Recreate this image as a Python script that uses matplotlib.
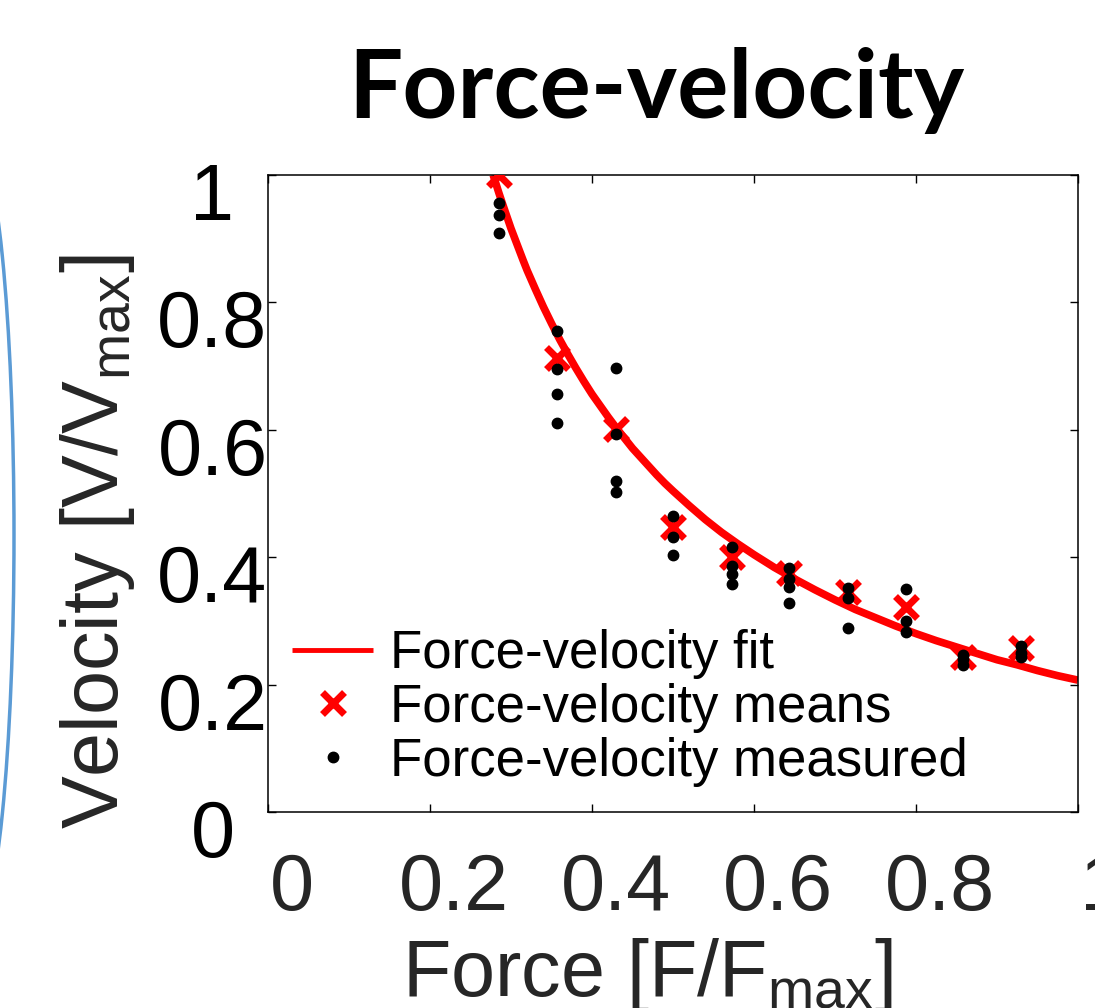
import matplotlib
matplotlib.use("Agg")
import matplotlib.pyplot as plt
from matplotlib.patches import Ellipse
from matplotlib.transforms import ScaledTranslation

plt.rcParams['font.family'] = ['Liberation Sans', 'DejaVu Sans']
plt.rcParams['mathtext.default'] = 'regular'

# Means of each force level (red crosses)
mean_force = [0.285, 0.357, 0.430, 0.500, 0.573, 0.643, 0.716, 0.788, 0.858, 0.930]
mean_velocity = [1.000, 0.713, 0.601, 0.448, 0.400, 0.375, 0.345, 0.322, 0.243, 0.257]

# Individual measurements at each force level (black dots)
measured_velocity = [
    [0.956, 0.937, 0.909],
    [0.755, 0.695, 0.656, 0.611],
    [0.697, 0.593, 0.520, 0.502],
    [0.465, 0.432, 0.403],
    [0.416, 0.386, 0.374, 0.358],
    [0.383, 0.365, 0.353, 0.328],
    [0.352, 0.336, 0.289],
    [0.350, 0.300, 0.283],
    [0.246, 0.240, 0.231],
    [0.261, 0.250, 0.243],
]

# Fitted curve
fit_force = [0.278, 0.285, 0.29, 0.30, 0.315, 0.32, 0.33, 0.34, 0.345, 0.35, 0.36, 0.37,
             0.38, 0.39, 0.40, 0.41, 0.42, 0.43, 0.44, 0.45, 0.46, 0.47, 0.48, 0.49,
             0.50, 0.52, 0.54, 0.56, 0.58, 0.60, 0.625, 0.65, 0.675, 0.70, 0.725,
             0.75, 0.775, 0.80, 0.825, 0.85, 0.875, 0.90, 0.925, 0.95, 0.975, 1.00]
fit_velocity = [1.000, 0.972, 0.953, 0.916, 0.866, 0.850, 0.821, 0.793, 0.780, 0.767,
                0.742, 0.719, 0.697, 0.676, 0.656, 0.638, 0.620, 0.603, 0.587, 0.571,
                0.557, 0.543, 0.529, 0.516, 0.504, 0.481, 0.459, 0.439, 0.421, 0.404,
                0.384, 0.366, 0.349, 0.333, 0.318, 0.305, 0.292, 0.280, 0.269, 0.259,
                0.249, 0.239, 0.231, 0.222, 0.214, 0.207]

ticks = [0, 0.2, 0.4, 0.6, 0.8, 1]
tick_labels = ['0', '0.2', '0.4', '0.6', '0.8', '1']

dot_x, dot_y = [], []
for f, vs in zip(mean_force, measured_velocity):
    dot_x += [f] * len(vs)
    dot_y += vs

fig = plt.figure(figsize=(10.95, 10.08), dpi=100)
ax = fig.add_axes([268 / 1095, 196 / 1008, 810 / 1095, 637 / 1008])

ax.plot(fit_force, fit_velocity, color='#ff0000', lw=5.5, label='Force-velocity fit',
        solid_capstyle='butt', solid_joinstyle='round', zorder=2)
ax.plot(mean_force, mean_velocity, ls='none', marker='x', ms=16, mew=5, color='#ff0000',
        label='Force-velocity means', zorder=3)
ax.plot(dot_x, dot_y, ls='none', marker='o', ms=7.5, color='black',
        label='Force-velocity measured', zorder=4)

ax.set_xlim(0, 1)
ax.set_ylim(0, 1)
ax.set_xticks(ticks)
ax.set_yticks(ticks)
ax.set_xticklabels(tick_labels)
ax.set_yticklabels(tick_labels)
ax.tick_params(direction='in', length=6, width=1, top=True, right=True, labelsize=57)
ax.tick_params(axis='x', pad=29, labelcolor='#262626')
ax.tick_params(axis='y', pad=40, labelcolor='black')
for sp in ax.spines.values():
    sp.set_linewidth(1.1)

for lab in ax.get_yticklabels():
    lab.set_horizontalalignment('center')
    lab.set_transform(lab.get_transform() + ScaledTranslation(0, -0.16, fig.dpi_scale_trans))
for lab in ax.get_xticklabels():
    lab.set_transform(lab.get_transform() + ScaledTranslation(0.24, 0, fig.dpi_scale_trans))

ax.set_xlabel('Force [F/F$_{max}$]', fontsize=57, color='#262626')
ax.set_ylabel('Velocity [V/V$_{max}$]', fontsize=57, color='#262626')
ax.xaxis.set_label_coords(0.468, -0.195)
ax.yaxis.set_label_coords(-0.162, 0.424)

leg = ax.legend(loc='lower left', bbox_to_anchor=(0.03, 0.04), frameon=False, fontsize=38,
                borderpad=0, borderaxespad=0, handlelength=1.53, handletextpad=0.32,
                labelspacing=0.07)
leg.get_lines()[0].set_linewidth(3.5)

fig.text(656 / 1095, 1 - 90 / 1008, 'Force-velocity', fontsize=69, fontweight='bold',
         family=['Lato', 'DejaVu Sans'], ha='center', va='center', color='black')

# partial blue circle peeking in at the left edge
arc = Ellipse((-0.26, (1008 - 535) / 100), 0.8, 7.9, transform=fig.dpi_scale_trans,
              fill=False, edgecolor='#5b9bd5', lw=2.5)
fig.add_artist(arc)

fig.savefig('out.png', dpi=100)
